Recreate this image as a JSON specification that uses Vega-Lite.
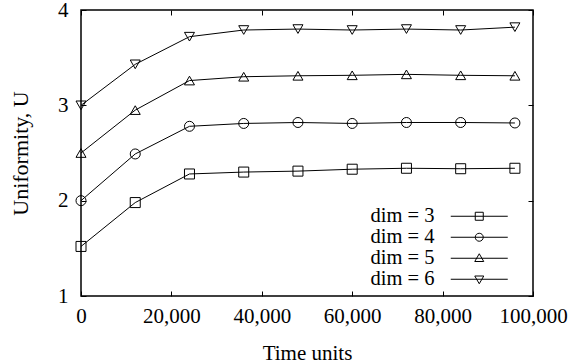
{
  "$schema": "https://vega.github.io/schema/vega-lite/v6.json",
  "width": 452,
  "height": 286,
  "autosize": {"type": "none"},
  "padding": {"left": 81, "top": 10, "right": 37, "bottom": 67},
  "background": "white",
  "config": {
    "view": {"stroke": "black", "strokeWidth": 1.5},
    "font": "Liberation Serif",
    "axis": {
      "grid": false,
      "domain": false,
      "tickColor": "black",
      "tickWidth": 1,
      "tickSize": -5,
      "labelFont": "Liberation Serif",
      "labelFontSize": 21,
      "labelColor": "black",
      "titleFont": "Liberation Serif",
      "titleFontSize": 21,
      "titleFontWeight": "normal",
      "titleColor": "black"
    }
  },
  "data": {
    "values": [
      {"t": 0, "U": 1.52, "series": "dim = 3"},
      {"t": 12000, "U": 1.98, "series": "dim = 3"},
      {"t": 24000, "U": 2.28, "series": "dim = 3"},
      {"t": 36000, "U": 2.30, "series": "dim = 3"},
      {"t": 48000, "U": 2.31, "series": "dim = 3"},
      {"t": 60000, "U": 2.33, "series": "dim = 3"},
      {"t": 72000, "U": 2.34, "series": "dim = 3"},
      {"t": 84000, "U": 2.335, "series": "dim = 3"},
      {"t": 96000, "U": 2.34, "series": "dim = 3"},
      {"t": 0, "U": 2.0, "series": "dim = 4"},
      {"t": 12000, "U": 2.49, "series": "dim = 4"},
      {"t": 24000, "U": 2.78, "series": "dim = 4"},
      {"t": 36000, "U": 2.81, "series": "dim = 4"},
      {"t": 48000, "U": 2.82, "series": "dim = 4"},
      {"t": 60000, "U": 2.81, "series": "dim = 4"},
      {"t": 72000, "U": 2.82, "series": "dim = 4"},
      {"t": 84000, "U": 2.82, "series": "dim = 4"},
      {"t": 96000, "U": 2.815, "series": "dim = 4"},
      {"t": 0, "U": 2.5, "series": "dim = 5"},
      {"t": 12000, "U": 2.95, "series": "dim = 5"},
      {"t": 24000, "U": 3.26, "series": "dim = 5"},
      {"t": 36000, "U": 3.30, "series": "dim = 5"},
      {"t": 48000, "U": 3.31, "series": "dim = 5"},
      {"t": 60000, "U": 3.315, "series": "dim = 5"},
      {"t": 72000, "U": 3.325, "series": "dim = 5"},
      {"t": 84000, "U": 3.315, "series": "dim = 5"},
      {"t": 96000, "U": 3.31, "series": "dim = 5"},
      {"t": 0, "U": 3.0, "series": "dim = 6"},
      {"t": 12000, "U": 3.43, "series": "dim = 6"},
      {"t": 24000, "U": 3.72, "series": "dim = 6"},
      {"t": 36000, "U": 3.79, "series": "dim = 6"},
      {"t": 48000, "U": 3.80, "series": "dim = 6"},
      {"t": 60000, "U": 3.79, "series": "dim = 6"},
      {"t": 72000, "U": 3.80, "series": "dim = 6"},
      {"t": 84000, "U": 3.79, "series": "dim = 6"},
      {"t": 96000, "U": 3.82, "series": "dim = 6"}
    ]
  },
  "encoding": {
    "x": {"field": "t", "type": "quantitative", "scale": {"domain": [0, 100000], "nice": false, "zero": false}},
    "y": {"field": "U", "type": "quantitative", "scale": {"domain": [1, 4], "nice": false, "zero": false}}
  },
  "layer": [
    {
      "mark": {"type": "line", "color": "black", "strokeWidth": 1},
      "encoding": {
        "detail": {"field": "series"},
        "x": {"field": "t", "type": "quantitative", "axis": {"orient": "bottom", "values": [0, 20000, 40000, 60000, 80000, 100000], "format": ",d", "title": "Time units", "labelPadding": 14, "titlePadding": 16, "labelFlush": false}},
        "y": {"field": "U", "type": "quantitative", "axis": {"orient": "left", "values": [1, 2, 3, 4], "format": "d", "title": "Uniformity, U", "titleFontSize": 22, "labelPadding": 18, "titlePadding": 25}}
      }
    },
    {
      "mark": {"type": "point", "filled": false, "stroke": "black", "strokeWidth": 1, "size": 100, "opacity": 1},
      "encoding": {
        "x": {"field": "t", "type": "quantitative", "axis": {"orient": "top", "values": [0, 20000, 40000, 60000, 80000, 100000], "labels": false, "title": null}},
        "y": {"field": "U", "type": "quantitative", "axis": {"orient": "right", "values": [1, 2, 3, 4], "labels": false, "title": null}},
        "shape": {
          "field": "series",
          "type": "nominal",
          "scale": {"domain": ["dim = 3", "dim = 4", "dim = 5", "dim = 6"], "range": ["square", "circle", "triangle-up", "triangle-down"]},
          "legend": null
        }
      }
    },
    {
      "mark": {"type": "point", "filled": false, "stroke": "black", "strokeWidth": 1, "size": 100, "opacity": 0},
      "encoding": {
        "x": {"field": "t", "type": "quantitative", "axis": null},
        "y": {"field": "U", "type": "quantitative", "axis": null},
        "shape": {
          "field": "series",
          "type": "nominal",
          "scale": {"domain": ["dim = 3", "dim = 4", "dim = 5", "dim = 6"], "range": [
            "M18.9,0H30.3M23.8,-0.8H25.4V0.8H23.8Z",
            "M25.4,0A0.8,0.8,0,1,1,23.8,0A0.8,0.8,0,1,1,25.4,0M18.9,0H30.3",
            "M18.9,0H30.3M24.6,-0.9L25.5,0.65L23.7,0.65Z",
            "M18.9,0H30.3M24.6,0.9L25.5,-0.65L23.7,-0.65Z"
          ]},
          "legend": {
            "title": null,
            "orient": "none",
            "legendX": 265,
            "legendY": 196,
            "padding": 0,
            "rowPadding": 0,
            "symbolSize": 100,
            "symbolOpacity": 1,
            "symbolStrokeColor": "black",
            "symbolStrokeWidth": 1,
            "symbolFillColor": "transparent",
            "labelOffset": 4,
            "labelFont": "Liberation Serif",
            "labelFontSize": 20.5,
            "labelColor": "black",
            "labelLimit": 200
          }
        }
      }
    }
  ],
  "resolve": {"axis": {"x": "independent", "y": "independent"}, "scale": {"shape": "independent"}}
}
